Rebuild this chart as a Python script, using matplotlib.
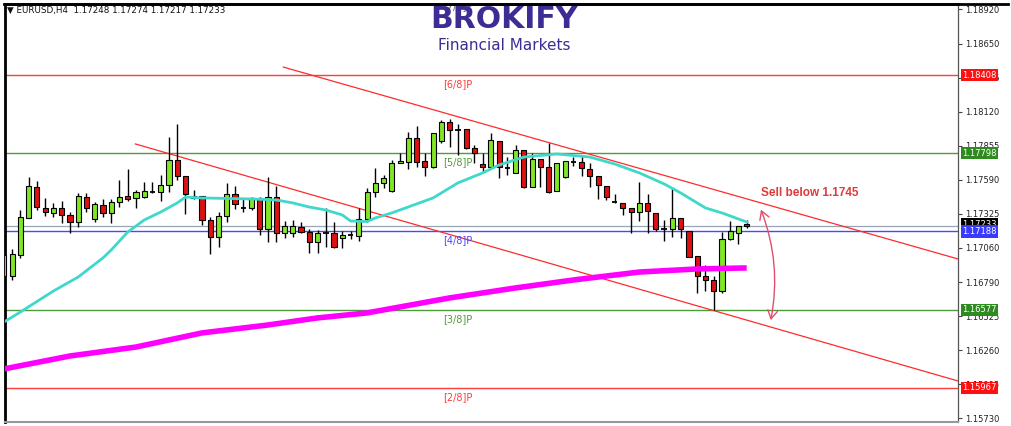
import matplotlib
matplotlib.use('Agg')
import matplotlib.pyplot as plt
from matplotlib.lines import Line2D
from matplotlib.patches import FancyArrowPatch
import numpy as np

plt.rcParams['font.family'] = ['DejaVu Sans']

# EURUSD H4 candles (open, high, low, close), oldest first
opens = [1.16840, 1.16840, 1.17004, 1.17293, 1.17534, 1.17371, 1.17332, 1.17371, 1.17316, 1.17261,
         1.17456, 1.17285, 1.17394, 1.17332, 1.17417, 1.17464, 1.17449, 1.17456, 1.17495, 1.17495,
         1.17550, 1.17745, 1.17620, 1.17449, 1.17464, 1.17277, 1.17144, 1.17308, 1.17480, 1.17371,
         1.17371, 1.17449, 1.17207, 1.17456, 1.17176, 1.17176, 1.17222, 1.17183, 1.17105, 1.17176,
         1.17176, 1.17137, 1.17160, 1.17152, 1.17285, 1.17495, 1.17566, 1.17503, 1.17722, 1.17729,
         1.17917, 1.17737, 1.17690, 1.17893, 1.18041, 1.17979, 1.17987, 1.17839, 1.17714, 1.17690,
         1.17893, 1.17683, 1.17644, 1.17823, 1.17534, 1.17753, 1.17690, 1.17503, 1.17612, 1.17729,
         1.17729, 1.17675, 1.17620, 1.17542, 1.17417, 1.17410, 1.17371, 1.17339, 1.17410, 1.17332,
         1.17207, 1.17207, 1.17293, 1.17191, 1.16996, 1.16840, 1.16809, 1.16723, 1.17129, 1.17176,
         1.17248]
highs = [1.17027, 1.17051, 1.17355, 1.17612, 1.17581, 1.17449, 1.17410, 1.17425, 1.17339, 1.17488,
         1.17488, 1.17417, 1.17441, 1.17441, 1.17589, 1.17675, 1.17511, 1.17573, 1.17573, 1.17628,
         1.17924, 1.18026, 1.17620, 1.17511, 1.17464, 1.17300, 1.17339, 1.17566, 1.17542, 1.17441,
         1.17456, 1.17456, 1.17612, 1.17542, 1.17269, 1.17277, 1.17261, 1.17207, 1.17199, 1.17371,
         1.17261, 1.17191, 1.17191, 1.17371, 1.17527, 1.17683, 1.17628, 1.17745, 1.17800, 1.17963,
         1.18010, 1.17800, 1.17956, 1.18057, 1.18065, 1.18026, 1.17987, 1.17862, 1.17800, 1.17956,
         1.17893, 1.17768, 1.17862, 1.17823, 1.17800, 1.17753, 1.17878, 1.17722, 1.17737, 1.17768,
         1.17784, 1.17722, 1.17620, 1.17542, 1.17480, 1.17410, 1.17371, 1.17573, 1.17480, 1.17332,
         1.17277, 1.17534, 1.17293, 1.17191, 1.16996, 1.16926, 1.16840, 1.17183, 1.17269, 1.17230,
         1.17274]
lows = [1.16817, 1.16809, 1.16981, 1.17290, 1.17355, 1.17308, 1.17300, 1.17254, 1.17176, 1.17222,
        1.17339, 1.17261, 1.17300, 1.17254, 1.17378, 1.17425, 1.17371, 1.17449, 1.17488, 1.17425,
        1.17495, 1.17589, 1.17324, 1.17441, 1.17238, 1.17012, 1.17066, 1.17261, 1.17363, 1.17339,
        1.17355, 1.17160, 1.17105, 1.17105, 1.17137, 1.17144, 1.17176, 1.17020, 1.17020, 1.17066,
        1.17059, 1.17059, 1.17129, 1.17113, 1.17261, 1.17456, 1.17527, 1.17495, 1.17722, 1.17675,
        1.17690, 1.17620, 1.17683, 1.17878, 1.17846, 1.17784, 1.17831, 1.17722, 1.17651, 1.17690,
        1.17605, 1.17628, 1.17644, 1.17527, 1.17534, 1.17534, 1.17488, 1.17503, 1.17605, 1.17698,
        1.17620, 1.17534, 1.17441, 1.17433, 1.17410, 1.17316, 1.17176, 1.17269, 1.17176, 1.17191,
        1.17113, 1.17144, 1.17137, 1.16988, 1.16708, 1.16723, 1.16575, 1.16708, 1.17121, 1.17090,
        1.17217]
closes = [1.17004, 1.17012, 1.17300, 1.17542, 1.17378, 1.17339, 1.17371, 1.17316, 1.17261, 1.17464,
          1.17371, 1.17402, 1.17332, 1.17417, 1.17456, 1.17441, 1.17495, 1.17503, 1.17495, 1.17550,
          1.17745, 1.17620, 1.17480, 1.17464, 1.17277, 1.17144, 1.17308, 1.17480, 1.17402, 1.17371,
          1.17449, 1.17207, 1.17456, 1.17176, 1.17230, 1.17230, 1.17183, 1.17105, 1.17176, 1.17176,
          1.17066, 1.17160, 1.17160, 1.17285, 1.17495, 1.17566, 1.17605, 1.17722, 1.17737, 1.17917,
          1.17729, 1.17690, 1.17956, 1.18041, 1.17979, 1.17979, 1.17839, 1.17800, 1.17690, 1.17901,
          1.17690, 1.17683, 1.17823, 1.17534, 1.17753, 1.17690, 1.17495, 1.17722, 1.17737, 1.17729,
          1.17683, 1.17620, 1.17550, 1.17456, 1.17417, 1.17371, 1.17339, 1.17410, 1.17347, 1.17207,
          1.17207, 1.17293, 1.17207, 1.16988, 1.16840, 1.16809, 1.16723, 1.17129, 1.17191, 1.17230,
          1.17233]

# moving averages (bar index, price)
ma_fast_idx = [0, 2, 6, 9, 12, 13, 15, 17, 19, 21, 22, 24, 30, 33, 35, 37, 39, 41, 42, 44,
               45, 47, 52, 55, 58, 60, 63, 67, 71, 74, 77, 80, 82, 85, 87, 90]
ma_fast = [1.16481, 1.16559, 1.16723, 1.16832, 1.16981, 1.17043, 1.17183, 1.17277, 1.17339, 1.17410,
           1.17456, 1.17449, 1.17441, 1.17433, 1.17410, 1.17378, 1.17355, 1.17316, 1.17269, 1.17265,
           1.17293, 1.17332, 1.17449, 1.17566, 1.17644, 1.17706, 1.17768, 1.17792, 1.17768, 1.17714,
           1.17644, 1.17558, 1.17488, 1.17371, 1.17332, 1.17261]
ma_slow_idx = [0, 8, 16, 24, 32, 38, 44, 54, 62, 69, 77, 84, 90]
ma_slow = [1.16115, 1.16216, 1.16286, 1.16396, 1.16458, 1.16513, 1.16552, 1.16669, 1.16747, 1.16809,
           1.16871, 1.16895, 1.16903]

# Murrey math levels
mm_names = ['[7/8]P', '[6/8]P', '[5/8]P', '[4/8]P', '[3/8]P', '[2/8]P']
mm_levels = [1.19018, 1.18408, 1.17798, 1.17188, 1.16577, 1.15967]
mm_colors = ['#555555', '#ff3c3c', '#4e9c3c', '#4848ff', '#4e9c3c', '#ff3c3c']
box_colors = [None, '#ff1010', '#2f8a1f', '#3a3aff', '#2f8a1f', '#ff1010']

# channel lines (bar index, price) pairs
upper_line = ([33.85, 115.6], [1.18470, 1.16973])
lower_line = ([15.93, 115.6], [1.17870, 1.16021])

bid = 1.17233
tick_vals = [1.18920, 1.18650, 1.18385, 1.18120, 1.17855, 1.17590, 1.17325, 1.17060,
             1.16790, 1.16525, 1.16260, 1.15995, 1.15730]
tick_labels = ['%.5f' % v for v in tick_vals]

W, H = 1012, 426
fig = plt.figure(figsize=(W / 100, H / 100), dpi=100)
ax = fig.add_axes([5 / W, 4 / H, 953 / W, 418 / H])

o = np.array(opens); h = np.array(highs); l = np.array(lows); c = np.array(closes)
idx = np.arange(len(o))
up = c > o
dn = c < o
dj = c == o

ax.vlines(idx, l, h, color='black', lw=1, zorder=3)
ax.bar(idx[up], c[up] - o[up], bottom=o[up], width=0.62, color='#80e626',
       edgecolor='black', lw=0.8, zorder=4)
ax.bar(idx[dn], o[dn] - c[dn], bottom=c[dn], width=0.62, color='#dd1111',
       edgecolor='black', lw=0.8, zorder=4)
ax.hlines(o[dj], idx[dj] - 0.33, idx[dj] + 0.33, color='black', lw=1.3, zorder=4)

ax.plot(ma_fast_idx, ma_fast, color='#40d8cb', lw=2, zorder=5)
ax.plot(ma_slow_idx, ma_slow, color='#ff00ff', lw=4, zorder=5, solid_capstyle='butt')

ax.plot(*upper_line, color='#ff2a2a', lw=0.9, zorder=2)
ax.plot(*lower_line, color='#ff2a2a', lw=0.9, zorder=2)

ax.axhline(bid, color='#9aa6b4', lw=0.9, zorder=1)
for name, lev, col in zip(mm_names, mm_levels, mm_colors):
    ax.axhline(lev, color=col, lw=1, zorder=1)
    ax.annotate(name, (53.2, lev), xytext=(0, -3), textcoords='offset points',
                ha='left', va='top', fontsize=7, color=col, annotation_clip=False, clip_on=True)

ax.set_xlim(0.13, 115.6)
ax.set_ylim(1.15701, 1.18962)
ax.set_xticks([])
ax.yaxis.tick_right()
ax.set_yticks(tick_vals)
ax.set_yticklabels(tick_labels)
ax.tick_params(axis='y', direction='out', length=3, width=0.8, labelsize=6,
               pad=2, labelcolor='#222222', color='#444444')

for s in ['left', 'top']:
    ax.spines[s].set_color('black')
    ax.spines[s].set_linewidth(2)
ax.spines['right'].set_color('#555555')
ax.spines['right'].set_linewidth(0.9)
ax.spines['bottom'].set_color('#999999')
ax.spines['bottom'].set_linewidth(1.5)

# price boxes on the right scale
ytr = ax.get_yaxis_transform()
for lev, bc in zip(mm_levels, box_colors):
    if bc is None:
        continue
    ax.text(1.0045, lev, '%.5f' % lev, transform=ytr, ha='left', va='center', fontsize=6,
            color='white', zorder=6, clip_on=False,
            bbox=dict(boxstyle='square,pad=0.2', fc=bc, ec='none'))
ax.text(1.0045, bid + 0.00012, '%.5f' % bid, transform=ytr, ha='left', va='center', fontsize=6,
        color='white', zorder=5.5, clip_on=False,
        bbox=dict(boxstyle='square,pad=0.2', fc='black', ec='none'))

# trade idea
ax.add_patch(FancyArrowPatch((91.6, 1.17378), (92.85, 1.16474),
                             arrowstyle='<->,head_length=0.6,head_width=0.35',
                             connectionstyle='arc3,rad=-0.15', mutation_scale=10,
                             color='#e0506a', lw=1, zorder=6))
ax.text(91.7, 1.17484, 'Sell below 1.1745', ha='left', va='center', fontsize=8.5,
        fontweight='bold', family=['Liberation Sans', 'DejaVu Sans'], color='#e03a3a', zorder=6)

# header and logo
fig.text(7 / W, 1 - 10.5 / H, '\u25bc EURUSD,H4  1.17248 1.17274 1.17217 1.17233',
         fontsize=6.3, va='center', ha='left', color='#111111')
fig.text(504 / W, 1 - 20 / H, 'BROKIFY', ha='center', va='center', fontsize=21.5,
         fontweight='bold', color='#3d2c94')
fig.text(504 / W, 1 - 45 / H, 'Financial Markets', ha='center', va='center', fontsize=11,
         color='#3d2c94')
fig.add_artist(Line2D([4 / W, 1008 / W], [1 - 3.5 / H, 1 - 3.5 / H], color='black', lw=2))

fig.savefig('out.png', dpi=100, facecolor='white')
